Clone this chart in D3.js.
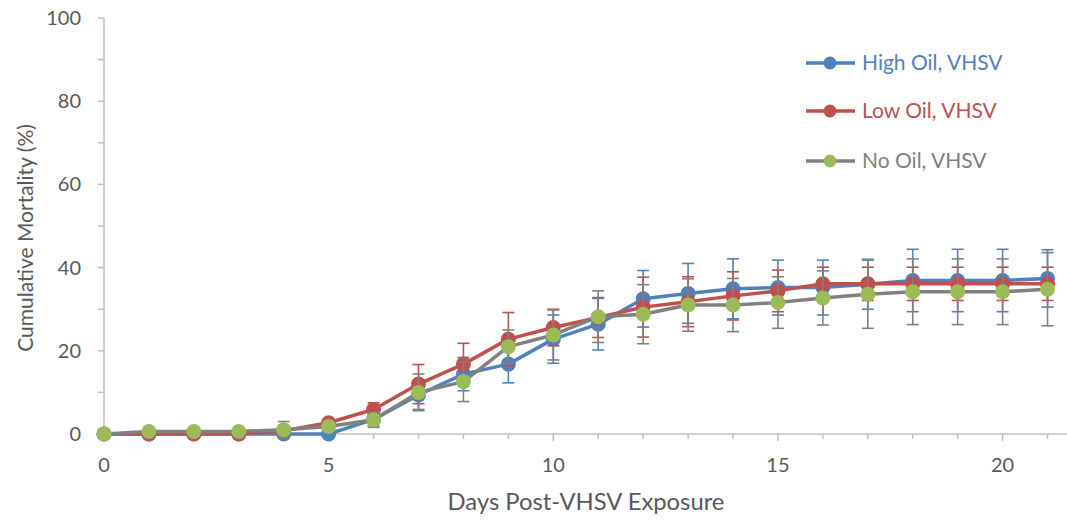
<!DOCTYPE html>
<html><head><meta charset="utf-8">
<script src="https://cdn.jsdelivr.net/npm/d3@7"></script>
<style>body{margin:0;background:#fff;} svg{display:block;}</style>
</head><body>
<svg id="c" width="1067" height="523"></svg>
<script>
const days = [0,1,2,3,4,5,6,7,8,9,10,11,12,13,14,15,16,17,18,19,20,21];
const highOil = [0,0,0,0,0,0,3.5,9.4,14.4,16.8,22.8,26.4,32.5,33.8,34.9,35.2,35.2,36.0,36.9,36.9,36.9,37.4];
const highOilErr = [0,0,0,0,0,0,1.5,3.5,4.0,4.5,5.8,6.2,6.8,7.2,7.2,6.6,6.6,6.0,7.5,7.5,7.5,6.9];
const lowOil = [0,0,0,0,0.8,2.7,5.9,12.0,16.8,22.8,25.6,28.0,30.5,31.8,33.2,34.4,36.1,36.1,36.1,36.1,36.1,36.1];
const lowOilErr = [0,0,0,0,0,0.5,1.6,4.7,5.0,6.4,4.4,4.8,7.2,6.0,5.8,5.0,4.0,4.0,4.0,4.0,4.0,4.0];
const noOil = [0,0.6,0.6,0.6,1.0,1.8,3.4,10.0,12.6,21.0,23.8,28.2,28.8,31.0,31.0,31.6,32.7,33.6,34.2,34.2,34.2,34.8];
const noOilErr = [0,0,0,0,2.0,1.0,1.8,4.4,4.8,4.0,6.0,6.2,7.1,6.3,6.4,6.2,6.5,8.2,7.9,7.9,7.9,8.8];
const seriesNames = ["High Oil, VHSV","Low Oil, VHSV","No Oil, VHSV"];
const yTicks = [0,20,40,60,80,100];
const xTicks = [0,5,10,15,20];

const series = [
  {name: seriesNames[0], vals: highOil, err: highOilErr, line: "#4F81BD", marker: "#4F81BD", text: "#4F81BD"},
  {name: seriesNames[1], vals: lowOil, err: lowOilErr, line: "#C0504D", marker: "#C0504D", text: "#C0504D"},
  {name: seriesNames[2], vals: noOil, err: noOilErr, line: "#808080", marker: "#9BBB59", text: "#7F7F7F"}
];

const svg = d3.select("#c");
const font = "Lato, 'Open Sans', sans-serif";
const plotL = 104, plotT = 18, plotB = 434;
const x = d3.scaleLinear().domain([0, 21.43]).range([plotL, plotL + 21.43*44.93]);
const y = d3.scaleLinear().domain([0, 100]).range([plotB, plotT]);
const axisCol = "#BFBFBF", textCol = "#595959";

// y axis
const ya = svg.append("g");
ya.append("line").attr("x1", plotL).attr("x2", plotL).attr("y1", y(0)).attr("y2", y(100)).attr("stroke", axisCol).attr("stroke-width", 1.5);
d3.range(0, 101, 10).forEach(v => {
  ya.append("line").attr("x1", plotL-6).attr("x2", plotL).attr("y1", y(v)).attr("y2", y(v)).attr("stroke", axisCol).attr("stroke-width", 1.5);
});
ya.selectAll("text").data(yTicks).join("text")
  .attr("x", 81).attr("y", d => y(d)).attr("dy", "0.35em").attr("text-anchor", "end")
  .attr("font-family", font).attr("font-size", 20).attr("fill", textCol).text(d => d);

// x axis
const xa = svg.append("g");
xa.append("line").attr("x1", plotL).attr("x2", 1067).attr("y1", plotB).attr("y2", plotB).attr("stroke", axisCol).attr("stroke-width", 1.5);
days.forEach(d => {
  const major = d % 5 === 0;
  xa.append("line").attr("x1", x(d)).attr("x2", x(d)).attr("y1", plotB).attr("y2", plotB + (major ? 7 : 5)).attr("stroke", axisCol).attr("stroke-width", 1.5);
});
xa.selectAll("text").data(xTicks).join("text")
  .attr("x", d => x(d)).attr("y", 472).attr("text-anchor", "middle")
  .attr("font-family", font).attr("font-size", 20).attr("fill", textCol).text(d => d);

// titles
svg.append("text").attr("x", 586).attr("y", 510).attr("text-anchor", "middle")
  .attr("font-family", font).attr("font-size", 23.8).attr("fill", textCol).text("Days Post-VHSV Exposure");
svg.append("text").attr("transform", "translate(33,238) rotate(-90)").attr("text-anchor", "middle")
  .attr("font-family", font).attr("font-size", 21).attr("fill", textCol).text("Cumulative Mortality (%)");

// series
const line = d3.line().x((d,i) => x(days[i])).y(d => y(d));
series.forEach(s => {
  const g = svg.append("g");
  const eb = g.append("g").attr("stroke", s.line).attr("stroke-width", 1.6);
  s.vals.forEach((v, i) => {
    const e = s.err[i];
    if (!e) return;
    const cx = x(days[i]);
    eb.append("line").attr("x1", cx).attr("x2", cx).attr("y1", y(v - e)).attr("y2", y(v + e));
    eb.append("line").attr("x1", cx-6).attr("x2", cx+6).attr("y1", y(v + e)).attr("y2", y(v + e));
    eb.append("line").attr("x1", cx-6).attr("x2", cx+6).attr("y1", y(v - e)).attr("y2", y(v - e));
  });
  g.append("path").datum(s.vals).attr("d", line).attr("fill", "none").attr("stroke", s.line).attr("stroke-width", 3.5).attr("stroke-linejoin", "round");
  g.selectAll("circle").data(s.vals).join("circle")
    .attr("cx", (d,i) => x(days[i])).attr("cy", d => y(d)).attr("r", 7.5).attr("fill", s.marker);
});

// legend
const legY = [63, 111, 161];
series.forEach((s, i) => {
  const g = svg.append("g");
  g.append("line").attr("x1", 806).attr("x2", 855).attr("y1", legY[i]).attr("y2", legY[i]).attr("stroke", s.line).attr("stroke-width", 3.5);
  g.append("circle").attr("cx", 830).attr("cy", legY[i]).attr("r", 6.5).attr("fill", s.marker);
  g.append("text").attr("x", 862).attr("y", legY[i]).attr("dy", "0.35em")
    .attr("font-family", font).attr("font-size", 21).attr("fill", s.text).text(s.name);
});
</script>
</body></html>
